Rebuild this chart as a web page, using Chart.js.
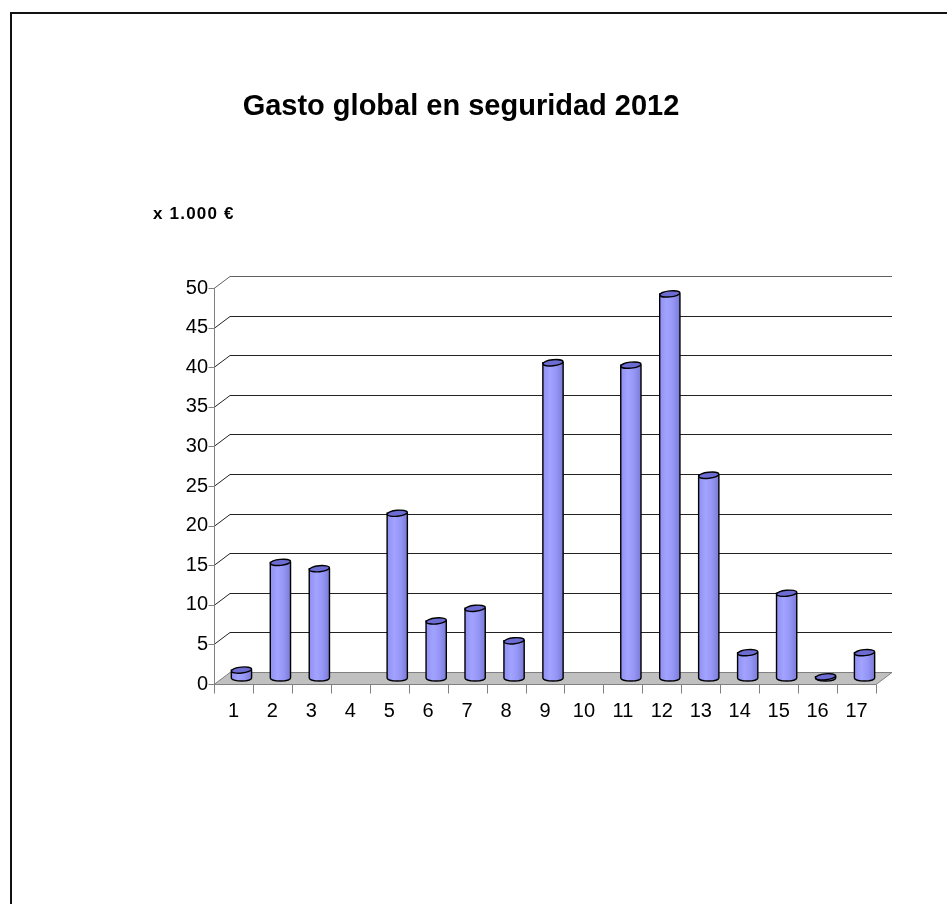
<!DOCTYPE html>
<html><head><meta charset="utf-8">
<script src="https://cdn.jsdelivr.net/npm/chart.js@4.4.1/dist/chart.umd.min.js"></script>
<style>
html,body{margin:0;padding:0;background:#fff;width:947px;height:904px;overflow:hidden;}
#wrap{position:relative;width:947px;height:904px;}
#frame{position:absolute;left:10px;top:12px;width:1000px;height:1000px;border-top:2px solid #111;border-left:2px solid #111;box-sizing:border-box;}
canvas{position:absolute;left:0;top:0;}
.t{position:absolute;font-family:"Liberation Sans",Arial,sans-serif;font-weight:bold;color:#000;white-space:nowrap;}
</style></head>
<body><div id="wrap"><div id="frame"></div>
<canvas id="c" width="947" height="904"></canvas>
<div class="t" id="title" style="left:0;width:922px;text-align:center;top:91px;font-size:29px;line-height:29px;"></div>
<div class="t" id="unit" style="left:153px;top:205px;font-size:17px;line-height:17px;letter-spacing:1.2px;"></div>
</div>
<script>
const titleText = 'Gasto global en seguridad 2012';
const unitText = 'x 1.000 €';
const categories = ['1','2','3','4','5','6','7','8','9','10','11','12','13','14','15','16','17'];
const values = [1, 14.6, 13.8, null, 20.8, 7.2, 8.8, 4.7, 39.8, null, 39.5, 48.5, 25.6, 3.2, 10.7, 0.15, 3.2];
const yTicks = [0, 5, 10, 15, 20, 25, 30, 35, 40, 45, 50];

document.getElementById('title').textContent = titleText;
document.getElementById('unit').textContent = unitText;

const DX = 16, DY = 12;
const threeD = {
  id: 'threeD',
  beforeDatasetsDraw(chart) {
    const {ctx, chartArea: a, scales: {x, y}} = chart;
    ctx.save();
    const y0 = Math.round(y.getPixelForValue(0)) + 0.5;
    // floor
    ctx.beginPath();
    ctx.moveTo(a.left, y0); ctx.lineTo(a.right, y0);
    ctx.lineTo(a.right + DX, y0 - DY); ctx.lineTo(a.left + DX, y0 - DY);
    ctx.closePath();
    ctx.fillStyle = '#c0c0c0'; ctx.fill();
    ctx.strokeStyle = '#808080'; ctx.lineWidth = 1; ctx.stroke();
    // gridlines (side stub + back wall)
    y.ticks.forEach(t => {
      if (t.value === 0) return;
      const py = Math.round(y.getPixelForValue(t.value)) + 0.5;
      ctx.beginPath();
      ctx.moveTo(a.left, py); ctx.lineTo(a.left + DX, py - DY); ctx.lineTo(a.right + DX, py - DY);
      ctx.strokeStyle = t.value === 50 ? '#606060' : '#222';
      ctx.stroke();
    });
    // y axis line & ticks
    ctx.strokeStyle = '#808080';
    const lx = Math.round(a.left) + 0.5;
    ctx.beginPath(); ctx.moveTo(lx, y.getPixelForValue(yTicks[yTicks.length-1])); ctx.lineTo(lx, y0); ctx.stroke();
    y.ticks.forEach(t => {
      const py = Math.round(y.getPixelForValue(t.value)) + 0.5;
      ctx.beginPath(); ctx.moveTo(lx - 6, py); ctx.lineTo(lx, py); ctx.stroke();
    });
    // x axis line & ticks
    ctx.beginPath(); ctx.moveTo(a.left, y0); ctx.lineTo(a.right, y0); ctx.stroke();
    const step = x.getPixelForValue(1) - x.getPixelForValue(0);
    for (let i = 0; i <= categories.length; i++) {
      const px = Math.round(x.getPixelForValue(i) - step / 2) + 0.5;
      ctx.beginPath(); ctx.moveTo(px, y0); ctx.lineTo(px, y0 + 9); ctx.stroke();
    }
    ctx.restore();
    ctx.save();
    ctx.translate(DX / 2, -DY / 2);
  },
  afterDatasetsDraw(chart) {
    const ctx = chart.ctx;
    const meta = chart.getDatasetMeta(0);
    meta.data.forEach((el, i) => {
      if (values[i] == null) return;
      const w = el.width, cx = el.x, top = el.y, base = el.base;
      const l = cx - w / 2, r = cx + w / 2, ry = 3;
      const g = ctx.createLinearGradient(l, 0, r, 0);
      g.addColorStop(0, '#9090f2'); g.addColorStop(0.35, '#a2a2ff');
      g.addColorStop(0.65, '#9696f6'); g.addColorStop(1, '#7a7ad6');
      ctx.beginPath();
      ctx.moveTo(l, top); ctx.lineTo(l, base);
      ctx.ellipse(cx, base, w / 2, ry, 0, Math.PI, 0, true);
      ctx.lineTo(r, top); ctx.closePath();
      ctx.fillStyle = g; ctx.fill();
      ctx.strokeStyle = '#000'; ctx.lineWidth = 1.4; ctx.stroke();
      ctx.beginPath();
      ctx.ellipse(cx, top, w / 2, ry, -0.1, 0, Math.PI * 2);
      ctx.fillStyle = '#6c6cd2'; ctx.fill(); ctx.stroke();
    });
    ctx.restore();
  }
};

new Chart(document.getElementById('c'), {
  type: 'bar',
  data: {
    labels: categories,
    datasets: [{
      data: values,
      backgroundColor: '#9999ff',
      borderWidth: 0,
      categoryPercentage: 1,
      barPercentage: 0.52,
      clip: false
    }]
  },
  options: {
    responsive: false,
    maintainAspectRatio: false,
    animation: false,
    layout: { padding: { left: 164, right: 71, top: 288, bottom: 180 } },
    plugins: { legend: { display: false }, tooltip: { enabled: false }, title: { display: false } },
    scales: {
      x: {
        grid: { display: false, drawTicks: false },
        border: { display: false },
        ticks: { color: '#000', font: { family: 'Liberation Sans', size: 20 }, padding: 15, maxRotation: 0, autoSkip: false },
        afterFit: s => { s.height = 40; }
      },
      y: {
        min: 0, max: 50,
        afterBuildTicks: s => { s.ticks = yTicks.map(v => ({ value: v })); },
        grid: { display: false, drawTicks: false },
        border: { display: false },
        ticks: { color: '#000', font: { family: 'Liberation Sans', size: 20 }, padding: 6 },
        afterFit: s => { s.width = 50; }
      }
    }
  },
  plugins: [threeD]
});
</script>
</body></html>
